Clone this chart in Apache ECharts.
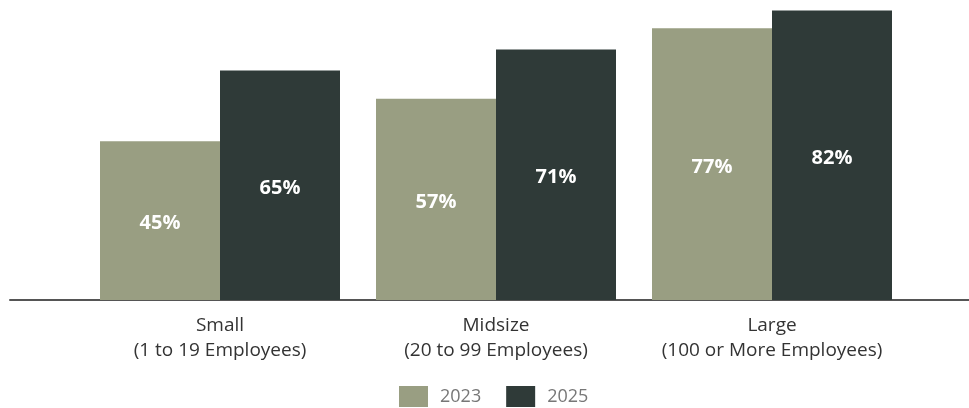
<!DOCTYPE html>
<html>
<head>
<meta charset="utf-8">
<script src="https://cdn.jsdelivr.net/npm/echarts@6/dist/echarts.min.js"></script>
<style>
  html, body { margin: 0; padding: 0; background: #ffffff; }
  #chart { width: 969px; height: 408px; }
</style>
</head>
<body>
<div id="chart"></div>
<script>
// Share of businesses by size, 2023 vs 2025
const categories = ['Small\n(1 to 19 Employees)', 'Midsize\n(20 to 99 Employees)', 'Large\n(100 or More Employees)'];
const seriesNames = ['2023', '2025'];
const values2023 = [45, 57, 77];
const values2025 = [65, 71, 82];

const colors = ['#999e82', '#2f3a38'];
const font = 'Open Sans';

const chart = echarts.init(document.getElementById('chart'), null, { renderer: 'canvas' });

function barSeries(name, data, color) {
  return {
    name: name,
    type: 'bar',
    xAxisIndex: 0,
    yAxisIndex: 0,
    data: data,
    barWidth: 120,
    barGap: '0%',
    itemStyle: { color: color },
    label: {
      show: true,
      position: 'inside',
      offset: [0, 3],
      color: '#ffffff',
      fontFamily: font,
      fontWeight: 'bold',
      fontSize: 20,
      formatter: p => p.value + '%'
    },
    emphasis: { disabled: true }
  };
}

chart.setOption({
  animation: false,
  backgroundColor: '#ffffff',
  grid: [
    { left: 82, right: 59, top: 0, bottom: 108, containLabel: false },
    // full-width grid that only carries the baseline rule
    { left: 10, right: 0, top: 0, bottom: 108, containLabel: false }
  ],
  xAxis: [
    {
      type: 'category',
      gridIndex: 0,
      data: categories,
      axisLine: { show: false },
      axisTick: { show: false },
      axisLabel: {
        interval: 0,
        hideOverlap: false,
        color: '#333333',
        fontFamily: font,
        fontSize: 19,
        lineHeight: 25,
        margin: 13
      }
    },
    {
      type: 'value',
      gridIndex: 1,
      min: 0,
      max: 1,
      axisLine: { show: true, onZero: false, lineStyle: { color: '#555555', width: 2 } },
      axisTick: { show: false },
      axisLabel: { show: false },
      splitLine: { show: false }
    }
  ],
  yAxis: [
    {
      type: 'value',
      gridIndex: 0,
      min: 0,
      max: 85,
      show: false,
      splitLine: { show: false }
    },
    {
      type: 'value',
      gridIndex: 1,
      show: false,
      splitLine: { show: false }
    }
  ],
  legend: {
    data: seriesNames,
    left: 399,
    top: 386,
    padding: 0,
    itemWidth: 29,
    itemHeight: 21,
    itemGap: 25,
    icon: 'rect',
    textStyle: {
      color: '#777777',
      fontFamily: font,
      fontSize: 18,
      padding: [8, 0, 0, 7]
    }
  },
  series: [
    barSeries(seriesNames[0], values2023, colors[0]),
    barSeries(seriesNames[1], values2025, colors[1])
  ]
});
</script>
</body>
</html>
